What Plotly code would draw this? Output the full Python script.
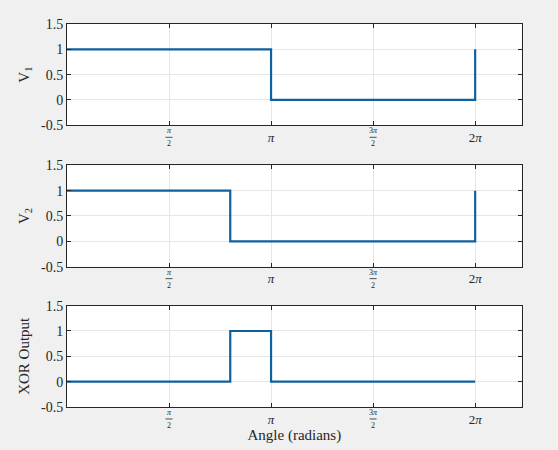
import numpy as np
import plotly.graph_objects as go
from plotly.subplots import make_subplots

pi = np.pi

# step breakpoints (angle in radians) and levels, drawn with hv steps
v1_angle = [0, pi, 2 * pi]
v1_level = [1, 0, 1]
v2_angle = [0, 0.8 * pi, 2 * pi]
v2_level = [1, 0, 1]
xor_angle = [0, 0.8 * pi, pi, 2 * pi]
xor_level = [0, 1, 0, 0]

y_titles = ['V<sub>1</sub>', 'V<sub>2</sub>', 'XOR Output']
x_tickvals = [pi / 2, pi, 3 * pi / 2, 2 * pi]
x_ticktext = ['', '<i>π</i>', '', '2<i>π</i>']
# fraction labels for the half-pi ticks
frac_vals = [pi / 2, 3 * pi / 2]
frac_num = ['<i>π</i>', '3<i>π</i>']
frac_den = ['2', '2']
y_tickvals = [-0.5, 0, 0.5, 1, 1.5]
y_ticktext = ['-0.5', '0', '0.5', '1', '1.5']

x_max = 7
line_color = '#11609e'
ink = '#262626'
font_family = 'Liberation Serif'
PX = 434.0  # vertical pixels per paper unit as rendered

fig = make_subplots(rows=3, cols=1)
series = [(v1_angle, v1_level), (v2_angle, v2_level), (xor_angle, xor_level)]
for i, (xs, ys) in enumerate(series):
    fig.add_trace(go.Scatter(x=xs, y=ys, mode='lines', line_shape='hv',
                             line=dict(color=line_color, width=2.2),
                             showlegend=False), row=i + 1, col=1)

domains = [[0.7281, 0.9608], [0.4032, 0.6359], [0.0806, 0.3134]]
for i in range(3):
    fig.update_xaxes(range=[0, x_max], domain=[0.120, 0.935],
                     tickvals=x_tickvals, ticktext=x_ticktext,
                     ticks='inside', ticklen=4, tickcolor=ink,
                     showline=True, linecolor=ink, linewidth=1,
                     mirror='ticks', showgrid=True, gridcolor='#e6e6e6',
                     zeroline=False, tickfont=dict(size=13, color=ink),
                     row=i + 1, col=1)
    fig.update_yaxes(range=[-0.5, 1.5], domain=domains[i],
                     tickvals=y_tickvals, ticktext=y_ticktext,
                     ticks='inside', ticklen=4, tickcolor=ink,
                     showline=True, linecolor=ink, linewidth=1,
                     mirror='ticks', showgrid=True, gridcolor='#e6e6e6',
                     zeroline=False, tickfont=dict(size=14, color=ink),
                     title=dict(text=y_titles[i], standoff=7,
                                font=dict(size=15, color=ink)),
                     row=i + 1, col=1)

    # stacked fraction tick labels
    xa = 'x' if i == 0 else 'x%d' % (i + 1)
    bar_y = domains[i][0] - 12 / PX
    for v, num, den in zip(frac_vals, frac_num, frac_den):
        fig.add_annotation(x=v, xref=xa, y=bar_y + 1 / PX, yref='paper',
                           text=num, showarrow=False, yanchor='bottom',
                           font=dict(size=8, color=ink), borderpad=0)
        fig.add_annotation(x=v, xref=xa, y=bar_y - 1 / PX, yref='paper',
                           text=den, showarrow=False, yanchor='top',
                           font=dict(size=8, color=ink), borderpad=0)
        half = (5 if len(num) > 10 else 3.5) / (0.815 * 558)
        xd = v / x_max
        fig.add_shape(type='line', xref=xa + ' domain', yref='paper',
                      x0=xd - half, x1=xd + half, y0=bar_y, y1=bar_y,
                      line=dict(color=ink, width=0.8))

fig.update_xaxes(title=dict(text='Angle (radians)', standoff=2,
                            font=dict(size=15, color=ink)), row=3, col=1)

fig.update_layout(width=558, height=450,
                  margin=dict(l=0, r=0, t=0, b=0),
                  paper_bgcolor='#f0f0f0', plot_bgcolor='white',
                  font=dict(family=font_family, color=ink))

fig.write_html('out.html', config={'displayModeBar': False},
               post_script="document.body.style.margin='0';"
                           "document.body.style.background='#f0f0f0';")
